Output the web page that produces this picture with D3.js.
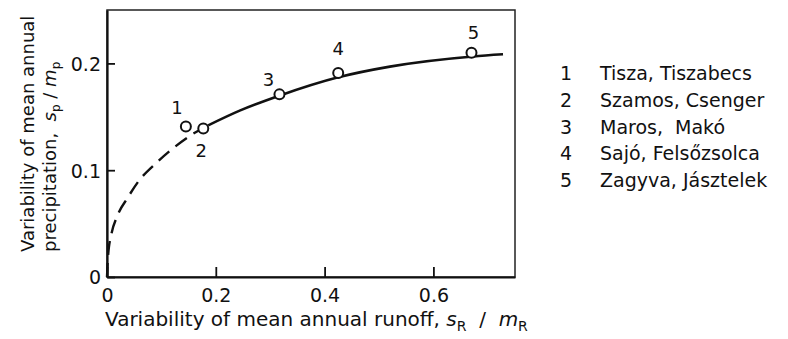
<!DOCTYPE html>
<html>
<head>
<meta charset="utf-8">
<script src="https://cdnjs.cloudflare.com/ajax/libs/d3/7.8.5/d3.min.js"></script>
<style>
  html, body { margin: 0; padding: 0; background: #fff; }
  svg text { font-family: "DejaVu Sans", sans-serif; fill: #111; }
</style>
</head>
<body>
<svg id="chart" width="788" height="339"></svg>
<script>
// stations (points)
const stationIds = ['1', '2', '3', '4', '5'];
const stationNames = ['Tisza, Tiszabecs', 'Szamos, Csenger', 'Maros,  Makó', 'Sajó, Felsőzsolca', 'Zagyva, Jásztelek'];
const runoffVar = [0.145, 0.177, 0.317, 0.425, 0.670];
const precipVar = [0.141, 0.139, 0.171, 0.191, 0.210];

// fitted curve
const dashedX = [0, 0.002, 0.008, 0.018, 0.039, 0.057, 0.091, 0.125, 0.155, 0.186];
const dashedY = [0, 0.020, 0.040, 0.056, 0.075, 0.089, 0.107, 0.122, 0.133, 0.142];
const solidX = [0.186, 0.245, 0.318, 0.425, 0.520, 0.673, 0.728];
const solidY = [0.142, 0.156, 0.170, 0.187, 0.197, 0.2065, 0.2085];

const xTicks = [0, 0.2, 0.4, 0.6];
const yTicks = [0, 0.1, 0.2];

const svg = d3.select('#chart');
const plotL = 107, plotR = 515, plotT = 10, plotB = 277;

const x = d3.scaleLinear().domain([0, 0.75]).range([plotL, plotR]);
const y = d3.scaleLinear().domain([0, 0.25]).range([plotB, plotT]);

const fmt = d => d === 0 ? '0' : d3.format('.1f')(d);

// frame
svg.append('rect')
  .attr('x', plotL).attr('y', plotT)
  .attr('width', plotR - plotL).attr('height', plotB - plotT)
  .attr('fill', 'none').attr('stroke', '#222').attr('stroke-width', 1.5);

// axes with inward ticks
const xAxis = svg.append('g')
  .attr('transform', `translate(0,${plotB})`)
  .call(d3.axisBottom(x).tickValues(xTicks).tickFormat(fmt).tickSizeInner(-10).tickSizeOuter(0).tickPadding(12));
const yAxis = svg.append('g')
  .attr('transform', `translate(${plotL},0)`)
  .call(d3.axisLeft(y).tickValues(yTicks).tickFormat(fmt).tickSizeInner(-8).tickSizeOuter(0).tickPadding(6));

[xAxis, yAxis].forEach(a => {
  a.select('.domain').attr('stroke', '#111').attr('stroke-width', 2.2);
  a.selectAll('.tick line').attr('stroke', '#111').attr('stroke-width', 1.8);
  a.selectAll('.tick text')
    .style('font-family', '"DejaVu Sans", sans-serif')
    .style('font-size', '19px').attr('fill', '#111');
});
yAxis.selectAll('.tick text').attr('dy', '0.36em');

// curves
const line = d3.line().x(d => x(d[0])).y(d => y(d[1])).curve(d3.curveMonotoneX);
svg.append('path')
  .datum(d3.zip(dashedX, dashedY))
  .attr('d', line)
  .attr('fill', 'none').attr('stroke', '#111').attr('stroke-width', 2.4)
  .attr('stroke-dasharray', '14,8');
svg.append('path')
  .datum(d3.zip(solidX, solidY))
  .attr('d', line)
  .attr('fill', 'none').attr('stroke', '#111').attr('stroke-width', 2.6);

// points
const pts = stationIds.map((id, i) => ({ id, x: runoffVar[i], y: precipVar[i] }));
svg.selectAll('circle.pt').data(pts).join('circle')
  .attr('class', 'pt')
  .attr('cx', d => x(d.x)).attr('cy', d => y(d.y)).attr('r', 5)
  .attr('fill', '#fff').attr('stroke', '#111').attr('stroke-width', 2);

// point labels (offsets relative to point)
const labelOffsets = [[-9, -12], [-2, 28], [-11, -8], [0, -18], [2, -14]];
svg.selectAll('text.plab').data(pts).join('text')
  .attr('class', 'plab')
  .attr('x', (d, i) => x(d.x) + labelOffsets[i][0])
  .attr('y', (d, i) => y(d.y) + labelOffsets[i][1])
  .attr('text-anchor', 'middle')
  .style('font-size', '18px')
  .text(d => d.id);

// legend
const legend = svg.append('g');
stationIds.forEach((id, i) => {
  const by = 80 + i * 26.8;
  legend.append('text').attr('x', 566).attr('y', by).attr('text-anchor', 'middle')
    .style('font-size', '19px').text(id);
  legend.append('text').attr('x', 600).attr('y', by)
    .style('font-size', '19px').style('white-space', 'pre').text(stationNames[i]);
});

// x axis title
const xt = svg.append('text').attr('x', 105).attr('y', 326)
  .style('font-size', '20px').style('white-space', 'pre');
xt.append('tspan').text('Variability of mean annual runoff, ');
xt.append('tspan').style('font-style', 'italic').text('s');
xt.append('tspan').attr('baseline-shift', '-35%').style('font-size', '14px').text('R');
xt.append('tspan').text('  /  ');
xt.append('tspan').style('font-style', 'italic').text('m');
xt.append('tspan').attr('baseline-shift', '-35%').style('font-size', '14px').text('R');

// y axis title (two lines, rotated)
const yt = svg.append('g').attr('transform', 'rotate(-90)');
yt.append('text').attr('x', -252).attr('y', 34).style('font-size', '18px')
  .text('Variability of mean annual');
const yt2 = yt.append('text').attr('x', -252).attr('y', 56)
  .style('font-size', '18px').style('white-space', 'pre');
yt2.append('tspan').text('precipitation,  ');
yt2.append('tspan').style('font-style', 'italic').text('s');
yt2.append('tspan').attr('baseline-shift', '-35%').style('font-size', '12px').text('p');
yt2.append('tspan').text(' / ');
yt2.append('tspan').style('font-style', 'italic').text('m');
yt2.append('tspan').attr('baseline-shift', '-35%').style('font-size', '12px').text('p');
</script>
</body>
</html>
